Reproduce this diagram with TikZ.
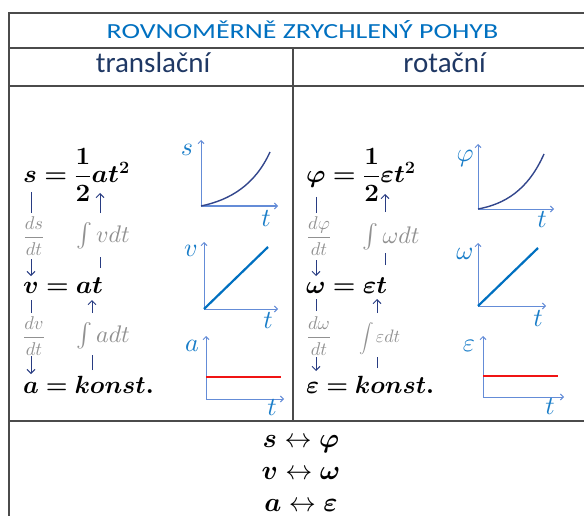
\documentclass[tikz,border=0pt]{standalone}
\usepackage{amsmath}
\usepackage{bm}
\usepackage{graphicx}
\usepackage{fontspec}
\newfontfamily\calibri{Carlito}
\usetikzlibrary{arrows.meta}
\definecolor{bordercol}{RGB}{75,75,75}
\definecolor{titleblue}{RGB}{0,112,192}
\definecolor{headnavy}{RGB}{31,56,100}
\definecolor{arrnavy}{RGB}{40,60,130}
\definecolor{labgray}{RGB}{145,145,145}
\definecolor{axisblue}{RGB}{100,140,215}
\definecolor{curveblue}{RGB}{50,70,140}
\definecolor{lineblue}{RGB}{0,112,192}
\definecolor{glabblue}{RGB}{25,125,200}
\definecolor{redline}{RGB}{240,20,20}
\newcommand{\GL}[1]{\scalebox{2.6}{$#1$}}
\newcommand{\DL}[2]{\scalebox{1.85}{$\dfrac{#1}{#2}$}}
\newcommand{\IL}[1]{\scalebox{2.4}{$\int #1dt$}}
\newcommand{\RL}[2]{\scalebox{2.7}{$\bm{#1}\leftrightarrow\bm{#2}$}}
\tikzset{
  border/.style={draw=bordercol, line width=1.8pt},
  eqn/.style={inner sep=0pt, font=\fontsize{24}{28}\selectfont},
  rel/.style={inner sep=0pt},
  derlab/.style={inner sep=0pt, text=labgray},
  flow/.style={draw=arrnavy, line width=1pt},
  flowarr/.style={flow, -{Straight Barb[length=4pt,width=8pt]}},
  axis/.style={draw=axisblue, line width=1pt, -{Straight Barb[length=3pt,width=6pt]}},
  glab/.style={inner sep=0pt, text=glabblue},
  curve/.style={draw=curveblue, line width=1.4pt},
  linear/.style={draw=lineblue, line width=2.2pt},
  const/.style={draw=redline, line width=2pt},
  headtxt/.style={inner sep=0pt, text=headnavy, font=\calibri\fontsize{29}{32}\selectfont},
}
\begin{document}
\begin{tikzpicture}[x=1pt,y=-1pt]
\useasboundingbox (0,0) rectangle (584,516);
% table
\draw[border] (584,13) -- (9,13) -- (9,516);
\draw[border] (9,48) -- (584,48);
\draw[border] (9,86) -- (584,86);
\draw[border] (9,421) -- (584,421);
\draw[border] (293,48) -- (293,421);
% headers
\node[inner sep=0pt, anchor=base, text=titleblue, font=\calibri\fontsize{21.5}{24}\selectfont] (title) at (302.5,39) {\scalebox{1.3}[1]{ROVNOMĚRNĚ ZRYCHLENÝ POHYB}};
\node[headtxt, anchor=base] (htrans) at (153,73) {translační};
\node[headtxt, anchor=base east] (hrot) at (486,73) {rotační};
% ---------- left equations
\node[eqn, anchor=west] (eqs) at (23,175) {\scalebox{1.05}[1]{$\bm{s = \dfrac{1}{2}at^2}$}};
\node[eqn, anchor=base west] (eqv) at (23,293) {\scalebox{1.04}[1]{$\bm{v = at}$}};
\node[eqn, anchor=base west] (eqa) at (23,393) {$\bm{a = konst.}$};
\node[derlab] (dsdt) at (34,236) {\DL{ds}{dt}};
\node[derlab] (dvdt) at (34,336) {\DL{dv}{dt}};
\node[derlab] (intv) at (103,236) {\IL{v}};
\node[derlab] (inta) at (103,336) {\IL{a}};
\coordinate (l1a) at (31,192); \coordinate (l1b) at (31,213);
\coordinate (l1c) at (31,259); \coordinate (l1d) at (31,276);
\draw[flow] (l1a) -- (l1b);
\draw[flowarr] (l1c) -- (l1d);
\coordinate (u1a) at (100,268); \coordinate (u1b) at (100,257);
\coordinate (u1c) at (100,213); \coordinate (u1d) at (100,193);
\draw[flow] (u1a) -- (u1b);
\draw[flowarr] (u1c) -- (u1d);
\coordinate (l2a) at (31,300); \coordinate (l2b) at (31,313);
\coordinate (l2c) at (31,356); \coordinate (l2d) at (31,374);
\draw[flow] (l2a) -- (l2b);
\draw[flowarr] (l2c) -- (l2d);
\coordinate (u2a) at (92,370); \coordinate (u2b) at (92,355);
\coordinate (u2c) at (92,313); \coordinate (u2d) at (92,300);
\draw[flow] (u2a) -- (u2b);
\draw[flowarr] (u2c) -- (u2d);
% ---------- right equations
\node[eqn, anchor=west] (eqphi) at (306,175) {\scalebox{1.05}[1]{$\bm{\varphi = \dfrac{1}{2}\varepsilon t^2}$}};
\node[eqn, anchor=base west] (eqom) at (306,293) {\scalebox{1.04}[1]{$\bm{\omega = \varepsilon t}$}};
\node[eqn, anchor=base west] (eqeps) at (306,393) {$\bm{\varepsilon = konst.}$};
\node[derlab] (dphidt) at (319,236) {\DL{d\varphi}{dt}};
\node[derlab] (domdt) at (319,336) {\DL{d\omega}{dt}};
\node[derlab] (intom) at (391,237) {\IL{\omega}};
\node[derlab] (inteps) at (380,339) {\scalebox{1.45}{$\displaystyle\int$}\,\scalebox{1.8}{$\varepsilon dt$}};
\coordinate (r1a) at (316,197); \coordinate (r1b) at (316,213);
\coordinate (r1c) at (316,260); \coordinate (r1d) at (316,276);
\draw[flow] (r1a) -- (r1b);
\draw[flowarr] (r1c) -- (r1d);
\coordinate (ru1a) at (385,265); \coordinate (ru1b) at (385,253);
\coordinate (ru1c) at (385,212); \coordinate (ru1d) at (385,194);
\draw[flow] (ru1a) -- (ru1b);
\draw[flowarr] (ru1c) -- (ru1d);
\coordinate (r2a) at (316,299); \coordinate (r2b) at (316,311);
\coordinate (r2c) at (316,357); \coordinate (r2d) at (316,371);
\draw[flow] (r2a) -- (r2b);
\draw[flowarr] (r2c) -- (r2d);
\coordinate (ru2a) at (377,368); \coordinate (ru2b) at (377,357);
\coordinate (ru2c) at (377,313); \coordinate (ru2d) at (377,299);
\draw[flow] (ru2a) -- (ru2b);
\draw[flowarr] (ru2c) -- (ru2d);
% ---------- left graphs
\coordinate (g1o) at (201,206);
\coordinate (g1y) at (201,140); \coordinate (g1x) at (278,206);
\draw[axis] (g1o) -- (g1y);
\draw[axis] (g1o) -- (g1x);
\coordinate (g1e) at (270,152);
\draw[curve] (g1o) .. controls (230,200) and (255,185) .. (g1e);
\node[glab] (g1ls) at (187,150) {\GL{s}};
\node[glab] (g1lt) at (266,219) {\GL{t}};
\coordinate (g2o) at (204,309);
\coordinate (g2y) at (204,242); \coordinate (g2x) at (278,309);
\draw[axis] (g2o) -- (g2y);
\draw[axis] (g2o) -- (g2x);
\coordinate (g2e) at (268,247);
\draw[linear] (g2o) -- (g2e);
\node[glab] (g2lv) at (191,251) {\GL{v}};
\node[glab] (g2lt) at (268,321) {\GL{t}};
\coordinate (g3o) at (206,399);
\coordinate (g3y) at (206,336); \coordinate (g3x) at (284,399);
\draw[axis] (g3o) -- (g3y);
\draw[axis] (g3o) -- (g3x);
\coordinate (g3a) at (206,377); \coordinate (g3b) at (281,377);
\draw[const] (g3a) -- (g3b);
\node[glab] (g3la) at (192,346) {\GL{a}};
\node[glab] (g3lt) at (272,408) {\GL{t}};
% ---------- right graphs
\coordinate (g4o) at (478,209);
\coordinate (g4y) at (478,144); \coordinate (g4x) at (554,209);
\draw[axis] (g4o) -- (g4y);
\draw[axis] (g4o) -- (g4x);
\coordinate (g4e) at (544,154);
\draw[curve] (g4o) .. controls (505,204) and (528,190) .. (g4e);
\node[glab] (g4lphi) at (465,158) {\GL{\varphi}};
\node[glab] (g4lt) at (542,220) {\GL{t}};
\coordinate (g5o) at (478,306);
\coordinate (g5y) at (478,243); \coordinate (g5x) at (546,306);
\draw[axis] (g5o) -- (g5y);
\draw[axis] (g5o) -- (g5x);
\coordinate (g5e) at (538,248);
\draw[linear] (g5o) -- (g5e);
\node[glab] (g5lom) at (465,254) {\GL{\omega}};
\node[glab] (g5lt) at (538,319) {\GL{t}};
\coordinate (g6o) at (483,397);
\coordinate (g6y) at (483,336); \coordinate (g6x) at (564,397);
\draw[axis] (g6o) -- (g6y);
\draw[axis] (g6o) -- (g6x);
\coordinate (g6a) at (483,376); \coordinate (g6b) at (558,376);
\draw[const] (g6a) -- (g6b);
\node[glab] (g6leps) at (469,346) {\GL{\varepsilon}};
\node[glab] (g6lt) at (550,407) {\GL{t}};
% ---------- bottom correspondences
\node[rel, anchor=base] (r1) at (301,447) {\RL{s}{\varphi}};
\node[rel, anchor=base] (r2) at (301,479) {\RL{v}{\omega}};
\node[rel, anchor=base] (r3) at (301,511) {\RL{a}{\varepsilon}};
\end{tikzpicture}
\end{document}
